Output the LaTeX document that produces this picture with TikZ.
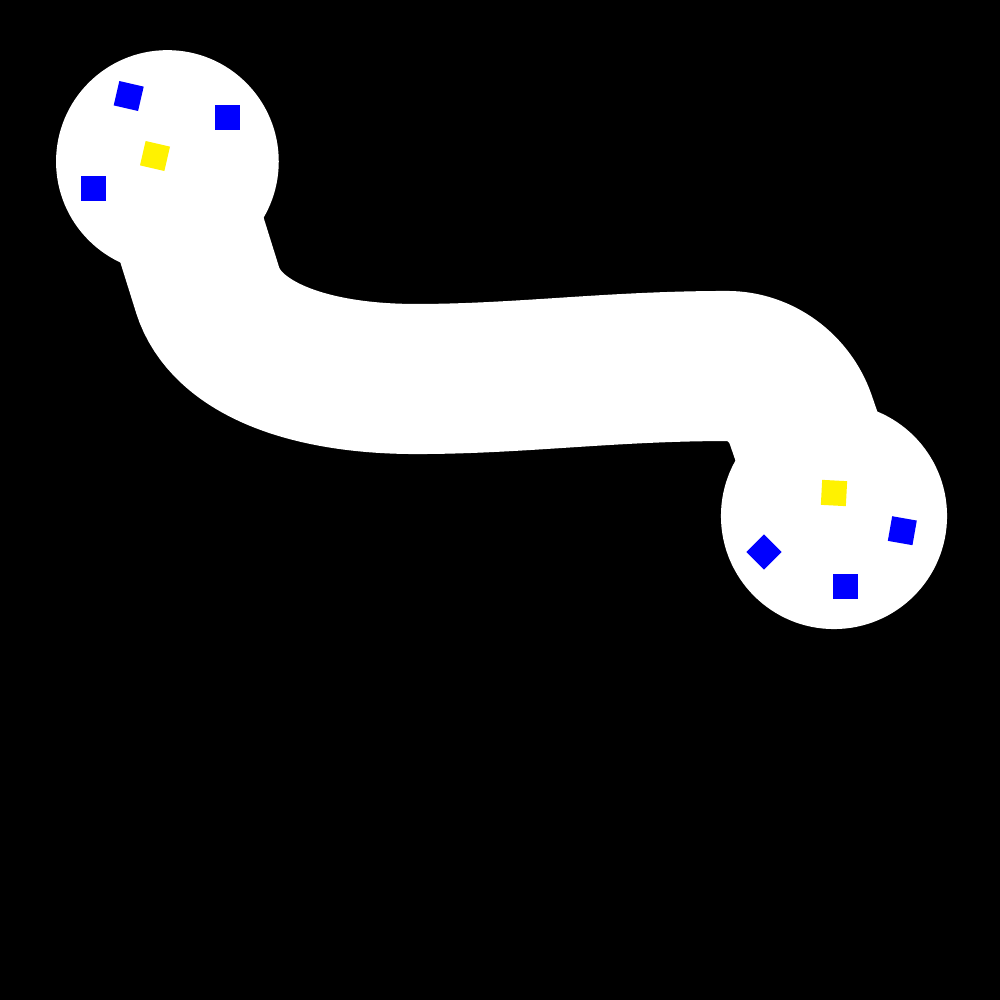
\documentclass[tikz,border=0pt]{standalone}
\usepackage{tikz}

\begin{document}
\begin{tikzpicture}[
    x=0.01cm, y=-0.01cm,
    blob/.style={circle, fill=white, inner sep=0pt, minimum size=#1},
    band/.style={white, line width=1.5cm},
    sq/.style={rectangle, fill=#1, inner sep=0pt, minimum size=0.25cm}
  ]
    \fill[black] (0,0) rectangle (1000,1000);
    \node[blob=2.226cm] (left) at (167.4,161.5) {};
    \node[blob=2.26cm] (right) at (834,516) {};
    \coordinate (drop) at (207.6,290);
    \coordinate (sag) at (416,379);
    \coordinate (crest) at (727,366);
    \coordinate (rise) at (800.6,419.3);
    \draw[band] (left.center) -- (drop)
      .. controls (225.6,347.2) and (306,379) .. (sag)
      .. controls (520,379) and (610,366) .. (crest)
      .. controls (760.2,366) and (789.6,388) .. (rise) -- (right.center);
    % pieces in the left blob
    \node[sq=blue, rotate=-13] (lb1) at (128.7,96) {};
    \node[sq=blue] (lb2) at (227.5,117.5) {};
    \node[sq=yellow, rotate=-13] (ly) at (155,156) {};
    \node[sq=blue] (lb3) at (93.5,188.5) {};
    % pieces in the right blob
    \node[sq=yellow, rotate=-3] (ry) at (834,493) {};
    \node[sq=blue, rotate=-10] (rb1) at (902.3,530.7) {};
    \node[sq=blue, rotate=45] (rb2) at (764,552) {};
    \node[sq=blue] (rb3) at (845.7,586.3) {};
  \end{tikzpicture}
\end{document}
